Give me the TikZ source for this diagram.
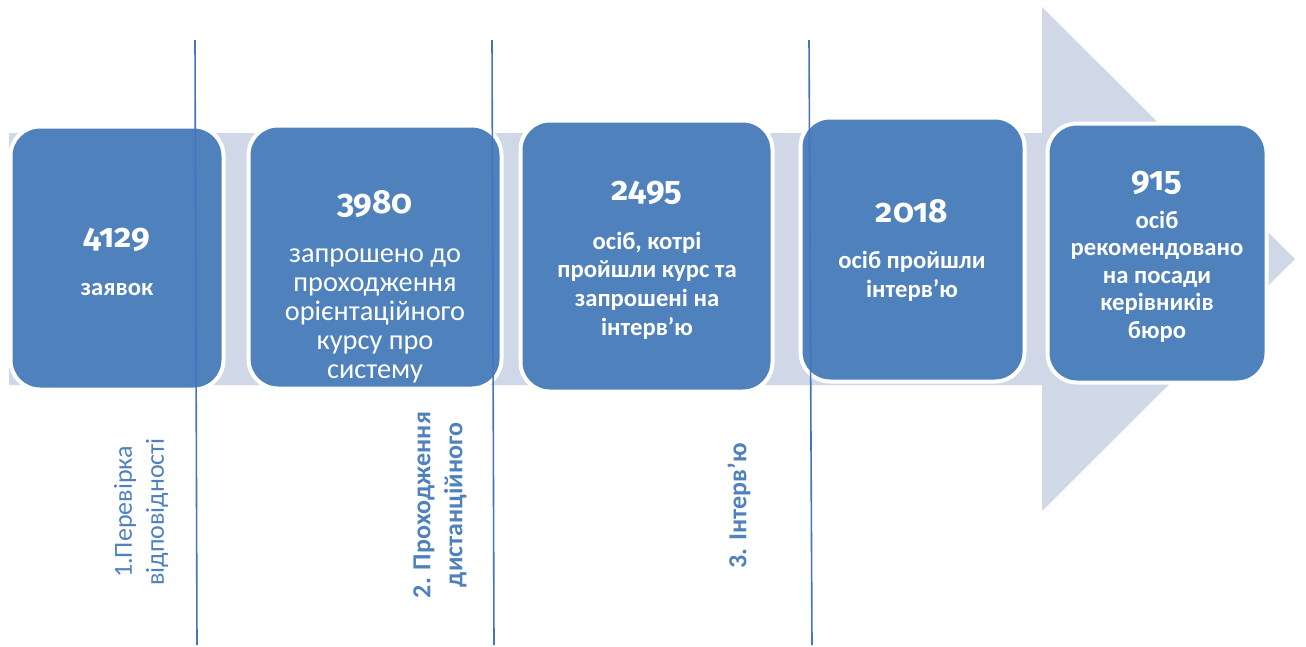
\documentclass[tikz,border=0pt]{standalone}
\usepackage{fontspec}
\setmainfont{Carlito}
\newfontfamily\numfont{Fira Sans}[Numbers=OldStyle]
\definecolor{band}{HTML}{D0D8E8}
\definecolor{boxblue}{HTML}{4F81BD}
\definecolor{rulec}{HTML}{4472C4}
\definecolor{lab}{HTML}{4F81BD}
\begin{document}
\begin{tikzpicture}[x=0.75pt,y=-0.75pt,
 stage/.style={draw=white,line width=3pt,fill=boxblue,rounded corners=22pt,inner sep=0pt},
 num/.style={text=white,font=\numfont\bfseries\fontsize{25}{30}\selectfont,anchor=base,inner sep=0pt},
 desc/.style={text=white,align=center,anchor=base,inner sep=0pt,font=\fontsize{21.25}{21.75}\selectfont},
 descb/.style={desc,font=\bfseries\fontsize{18.5}{21.5}\selectfont},
 phase/.style={text=lab,rotate=90,align=center,inner sep=0pt,font=\fontsize{19.5}{24}\selectfont},
 phaseb/.style={phase,font=\bfseries\fontsize{19.5}{24}\selectfont},
 divider/.style={draw=rulec,line width=1.2pt}]
\useasboundingbox (0,0) rectangle (1306,646);
% background arrow
\fill[band] (9,133) -- (1042,133) -- (1042,7) -- (1295,259) -- (1042,511) -- (1042,385) -- (9,385) -- cycle;
% stages
\node[stage,minimum width=159.75pt,minimum height=197.25pt] (b1) at (117,258) {};
\node[stage,minimum width=189.75pt,minimum height=197.25pt] (b2) at (375,257) {};
\node[stage,minimum width=189pt,minimum height=203.25pt] (b3) at (646.5,256) {};
\node[stage,minimum width=168pt,minimum height=198pt] (b4) at (912.5,249.5) {};
\node[stage,minimum width=164.25pt,minimum height=194.25pt] (b5) at (1157,253) {};
% texts (anchor base = baseline of last line)
\node[num] (n1) at (117,247) {4129};
\node[descb] (t1) at (117,295) {заявок};
\node[num] (n2) at (375,213) {3980};
\node[desc] (t2) at (375,378) {запрошено до\\проходження\\орієнтаційного\\курсу про\\систему};
\node[num] (n3) at (647,200) {2495};
\node[descb] (t3) at (647,335) {осіб, котрі\\пройшли курс та\\запрошені на\\інтерв’ю};
\node[num] (n4) at (912,222) {2018};
\node[descb,font=\bfseries\fontsize{18.5}{21.75}\selectfont] (t4) at (912,297) {осіб пройшли\\інтерв’ю};
\node[num] (n5) at (1157,190) {915};
\node[descb,font=\bfseries\fontsize{18.5}{20.6}\selectfont] (t5) at (1157,338) {осіб\\рекомендовано\\на посади\\керівників\\бюро};
% dividers
\coordinate (d1t) at (195,40); \coordinate (d1b) at (197,645);
\coordinate (d2t) at (492,40); \coordinate (d2b) at (494,645);
\coordinate (d3t) at (809,40); \coordinate (d3b) at (812,645);
\draw[divider] (d1t) -- (d1b);
\draw[divider] (d2t) -- (d2b);
\draw[divider] (d3t) -- (d3b);
% phase labels
\node[phase] (p1) at (141,512) {1.Перевірка\\відповідності};
\node[phaseb] (p2) at (440,505) {2. Проходження\\дистанційного};
\node[phaseb] (p3) at (739,506) {3. Інтерв’ю};
\end{tikzpicture}
\end{document}
